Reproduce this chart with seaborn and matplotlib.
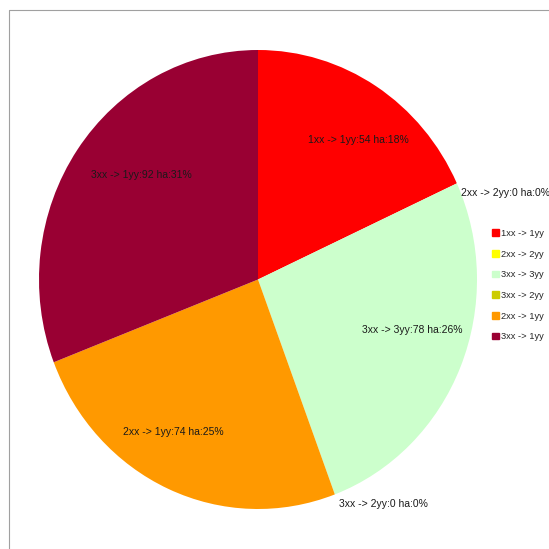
import numpy as np
import matplotlib.pyplot as plt
import seaborn as sns
from matplotlib.lines import Line2D

sns.set_style("white")
plt.rcParams["font.family"] = ["Liberation Sans", "DejaVu Sans"]

### 데이터
categories = ["1xx -> 1yy", "2xx -> 2yy", "3xx -> 3yy", "3xx -> 2yy", "2xx -> 1yy", "3xx -> 1yy"]
hectares = [54, 0, 78, 0, 74, 92]
colors = ["#FF0000", "#FFFF00", "#CCFFCC", "#CCCC00", "#FF9900", "#990033"]

### 라벨 위치 미세조정 (각도, 반지름)
label_turn = [-4.5, 0, 5, 0, -6, -6]
label_dist = [0.76, 1.0, 0.74, 1.0, 0.77, 0.70]

W = H = 549
fig = plt.figure(figsize=(W / 100, H / 100), dpi=100)

### 파이 영역 (약간 타원형)
cx, cy, rx, ry = 258, 279.5, 219, 229.5
ax = fig.add_axes([(cx - rx) / W, (H - cy - ry) / H, 2 * rx / W, 2 * ry / H])

wedges, _ = ax.pie(hectares, colors=colors, startangle=90, counterclock=False,
                   radius=1, wedgeprops=dict(linewidth=0))
ax.set_xlim(-1, 1)
ax.set_ylim(-1, 1)
ax.set_aspect("auto")
ax.axis("off")

total = sum(hectares)
for w, name, v, dt, d in zip(wedges, categories, hectares, label_turn, label_dist):
    label = f"{name}:{v} ha:{round(100 * v / total)}%"
    if v > 0:
        mid = np.deg2rad((w.theta1 + w.theta2) / 2 + dt)
        ax.text(d * np.cos(mid), d * np.sin(mid), label, ha="center", va="center",
                fontsize=7.5, color="#1a1a1a")
    else:
        ang = np.deg2rad(w.theta1)
        x, y = d * np.cos(ang), d * np.sin(ang)
        ax.text(x + 0.02, y - 0.02, label, ha="left", va="top",
                fontsize=7.5, color="#1a1a1a")

### 범례
handles = [plt.Rectangle((0, 0), 1, 1, color=c) for c in colors]
fig.legend(handles, categories, loc="upper left", bbox_to_anchor=(492 / W, 1 - 229 / H),
           frameon=False, fontsize=6.7, handlelength=0.75, handleheight=0.75,
           handletextpad=0.25, labelspacing=1.25, borderaxespad=0, borderpad=0)

### 테두리
fig.add_artist(Line2D([9 / W, 9 / W, 1], [0, 1 - 10 / H, 1 - 10 / H],
                      transform=fig.transFigure, color="#a0a0a0", linewidth=0.8))

fig.savefig("out.png", dpi=100)
